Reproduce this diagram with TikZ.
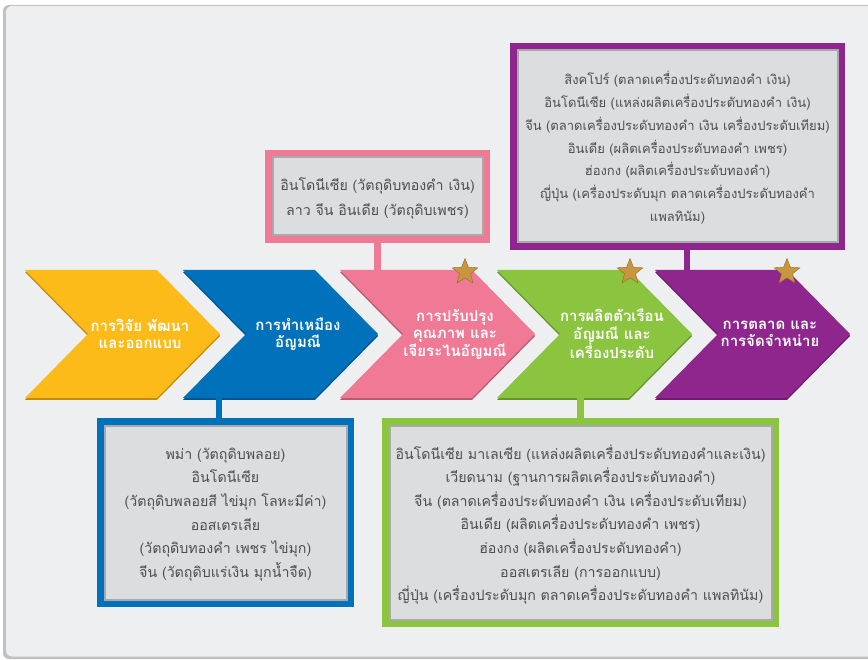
\documentclass[tikz,border=0pt]{standalone}
\usepackage{fontspec}
\usetikzlibrary{shapes.geometric}
\newfontfamily\thaifont[Script=Thai]{Loma}

\definecolor{chevyellow}{RGB}{253,187,25}
\definecolor{chevblue}{RGB}{0,114,188}
\definecolor{chevpink}{RGB}{240,122,150}
\definecolor{chevgreen}{RGB}{139,197,63}
\definecolor{chevpurple}{RGB}{142,38,142}
\definecolor{boxgray}{RGB}{220,221,222}
\definecolor{boxedge}{RGB}{168,169,171}
\definecolor{boxtext}{RGB}{78,78,80}
\definecolor{panelgray}{RGB}{238,239,240}
\definecolor{panelshade}{RGB}{192,193,195}
\definecolor{stargold}{RGB}{200,150,62}

\tikzset{
  chevlabel/.style={text=white, align=center, inner sep=0pt, minimum height=128pt,
    font=\thaifont\bfseries\fontsize{15}{17.5}\selectfont},
  infobox/.style={draw=#1, line width=6.5pt, fill=boxgray, text=boxtext, align=center,
    inner sep=0pt, text depth=0pt, font=\thaifont\fontsize{14.2}{23.6}\selectfont},
  link/.style={draw=#1, line width=6.5pt},
  starmark/.style={star, star points=5, star point ratio=2.3, minimum size=27pt,
    inner sep=0pt, fill=stargold, draw=stargold!70!black, line width=0.4pt}
}

\begin{document}
\begin{tikzpicture}[x=1pt,y=-1pt]
\useasboundingbox (0,0) rectangle (868,660);

% Draw the panel
\fill[white] (0,0) rectangle (868,660);
\fill[panelshade, rounded corners=6pt] (3,5) rectangle (885,659);
\fill[panelgray, rounded corners=6pt] (6,6) rectangle (885,656.5);

% Draw the chevrons
\foreach \x/\c in {25/chevyellow,183/chevblue,340/chevpink,497/chevgreen,655/chevpurple}{
  \fill[\c!75!black] (\x,272) -- ++(132,0) -- ++(63,64) -- ++(-63,64) -- ++(-132,0) -- ++(63,-64) -- cycle;
  \fill[\c] (\x,270) -- ++(132,0) -- ++(63,64) -- ++(-63,64) -- ++(-132,0) -- ++(63,-64) -- cycle;
}

%% Chevron labels
\node[chevlabel] (research) at (140,334) {การวิจัย พัฒนา\\และออกแบบ};
\node[chevlabel] (mining) at (298,334) {การทำเหมือง\\อัญมณี};
\node[chevlabel] (cutting) at (455,334) {การปรับปรุง\\คุณภาพ และ\\เจียระไนอัญมณี};
\node[chevlabel] (making) at (612,334) {การผลิตตัวเรือน\\อัญมณี และ\\เครื่องประดับ};
\node[chevlabel] (selling) at (770,334) {การตลาด และ\\การจัดจำหน่าย};

%% Stars
\node[starmark] (star3) at (465,272) {};
\node[starmark] (star4) at (630,272) {};
\node[starmark] (star5) at (787,272) {};

%% Country boxes
\node[infobox=chevpink, minimum width=218.5pt, minimum height=86.5pt,
  font=\thaifont\fontsize{14.2}{25}\selectfont] (cutbox) at (377.5,196.5)
  {อินโดนีเซีย (วัตถุดิบทองคำ เงิน)\\ลาว จีน อินเดีย (วัตถุดิบเพชร)};
\node[infobox=chevpurple, minimum width=328.5pt, minimum height=200.5pt,
  font=\thaifont\fontsize{13}{22.8}\selectfont] (sellbox) at (677.5,146.5)
  {สิงคโปร์ (ตลาดเครื่องประดับทองคำ เงิน)\\
   อินโดนีเซีย (แหล่งผลิตเครื่องประดับทองคำ เงิน)\\
   จีน (ตลาดเครื่องประดับทองคำ เงิน เครื่องประดับเทียม)\\
   อินเดีย (ผลิตเครื่องประดับทองคำ เพชร)\\
   ฮ่องกง (ผลิตเครื่องประดับทองคำ)\\
   ญี่ปุ่น (เครื่องประดับมุก ตลาดเครื่องประดับทองคำ\\
   แพลทินัม)};
\node[infobox=chevblue, minimum width=250.5pt, minimum height=182.5pt] (minebox) at (225.5,512.5)
  {พม่า (วัตถุดิบพลอย)\\
   อินโดนีเซีย\\
   (วัตถุดิบพลอยสี ไข่มุก โลหะมีค่า)\\
   ออสเตรเลีย\\
   (วัตถุดิบทองคำ เพชร ไข่มุก)\\
   จีน (วัตถุดิบแร่เงิน มุกน้ำจืด)};
\node[infobox=chevgreen, minimum width=390.5pt, minimum height=202.5pt] (makebox) at (580.5,522.5)
  {อินโดนีเซีย มาเลเซีย (แหล่งผลิตเครื่องประดับทองคำและเงิน)\\
   เวียดนาม (ฐานการผลิตเครื่องประดับทองคำ)\\
   จีน (ตลาดเครื่องประดับทองคำ เงิน เครื่องประดับเทียม)\\
   อินเดีย (ผลิตเครื่องประดับทองคำ เพชร)\\
   ฮ่องกง (ผลิตเครื่องประดับทองคำ)\\
   ออสเตรเลีย (การออกแบบ)\\
   ญี่ปุ่น (เครื่องประดับมุก ตลาดเครื่องประดับทองคำ แพลทินัม)};

%% Inner edges of the boxes
\foreach \b in {cutbox,sellbox,minebox,makebox}
  \draw[boxedge, line width=2pt] ([shift={(7.5pt,-7.5pt)}]\b.north west) rectangle ([shift={(-7.5pt,7.5pt)}]\b.south east);

%% Connectors
\draw[link=chevpink] (cutbox.south) -- (cutbox.south |- cutting.north);
\draw[link=chevpurple] ([xshift=9.5pt]sellbox.south) -- ([xshift=9.5pt]sellbox.south |- selling.north);
\draw[link=chevblue] ([xshift=-6.5pt]minebox.north) -- ([xshift=-6.5pt]minebox.north |- mining.south);
\draw[link=chevgreen] (makebox.north) -- (makebox.north |- making.south);

\end{tikzpicture}
\end{document}
